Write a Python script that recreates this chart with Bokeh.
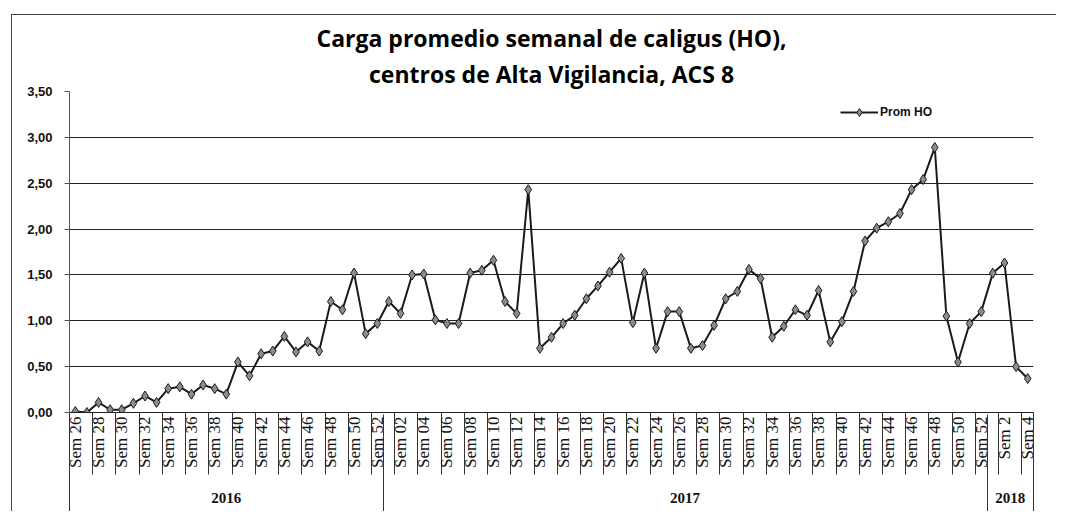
import math
from bokeh.plotting import figure
from bokeh.models import (Range1d, FixedTicker, LinearAxis, Title, Legend,
                          LegendItem, ColumnDataSource, Grid)
from bokeh.embed import file_html
from bokeh.resources import INLINE

# ---------------- data ----------------
weeks_2016 = ["Sem 26", "Sem 27", "Sem 28", "Sem 29", "Sem 30", "Sem 31", "Sem 32",
              "Sem 33", "Sem 34", "Sem 35", "Sem 36", "Sem 37", "Sem 38", "Sem 39",
              "Sem 40", "Sem 41", "Sem 42", "Sem 43", "Sem 44", "Sem 45", "Sem 46",
              "Sem 47", "Sem 48", "Sem 49", "Sem 50", "Sem 51", "Sem 52"]
weeks_2017 = ["Sem 01", "Sem 02", "Sem 03", "Sem 04", "Sem 05", "Sem 06", "Sem 07",
              "Sem 08", "Sem 09", "Sem 10", "Sem 11", "Sem 12", "Sem 13", "Sem 14",
              "Sem 15", "Sem 16", "Sem 17", "Sem 18", "Sem 19", "Sem 20", "Sem 21",
              "Sem 22", "Sem 23", "Sem 24", "Sem 25", "Sem 26", "Sem 27", "Sem 28",
              "Sem 29", "Sem 30", "Sem 31", "Sem 32", "Sem 33", "Sem 34", "Sem 35",
              "Sem 36", "Sem 37", "Sem 38", "Sem 39", "Sem 40", "Sem 41", "Sem 42",
              "Sem 43", "Sem 44", "Sem 45", "Sem 46", "Sem 47", "Sem 48", "Sem 49",
              "Sem 50", "Sem 51", "Sem 52"]
weeks_2018 = ["Sem 1", "Sem 2", "Sem 3", "Sem 4"]
years = ["2016", "2017", "2018"]

prom_2016 = [0.01, 0.00, 0.11, 0.03, 0.03, 0.10, 0.18, 0.11, 0.26, 0.28, 0.20, 0.30,
             0.26, 0.20, 0.55, 0.40, 0.64, 0.67, 0.83, 0.66, 0.77, 0.67, 1.21, 1.12,
             1.52, 0.86, 0.97]
prom_2017 = [1.21, 1.08, 1.50, 1.51, 1.01, 0.97, 0.97, 1.52, 1.55, 1.66, 1.21, 1.08,
             2.43, 0.70, 0.82, 0.97, 1.06, 1.24, 1.38, 1.53, 1.68, 0.98, 1.52, 0.70,
             1.10, 1.10, 0.70, 0.73, 0.95, 1.24, 1.32, 1.56, 1.46, 0.82, 0.94, 1.12,
             1.06, 1.33, 0.77, 0.99, 1.32, 1.87, 2.01, 2.08, 2.17, 2.43, 2.54, 2.89,
             1.05, 0.55, 0.97, 1.10]
prom_2018 = [1.52, 1.63, 0.50, 0.37]

y_ticks = [0.0, 0.5, 1.0, 1.5, 2.0, 2.5, 3.0, 3.5]
y_tick_labels = ["0,00", "0,50", "1,00", "1,50", "2,00", "2,50", "3,00", "3,50"]

title_lines = ["Carga promedio semanal de caligus (HO),",
               "centros de Alta Vigilancia, ACS 8"]
series_name = "Prom HO"

# ---------------- derived ----------------
week_groups = [weeks_2016, weeks_2017, weeks_2018]
labels = weeks_2016 + weeks_2017 + weeks_2018
values = prom_2016 + prom_2017 + prom_2018
n = len(labels)
xs = list(range(n))
src = ColumnDataSource(dict(x=xs, y=values, label=labels))

bounds = [-0.5]
for g in week_groups:
    bounds.append(bounds[-1] + len(g))
centers = [(bounds[i] + bounds[i + 1]) / 2 for i in range(len(week_groups))]

p = figure(width=1045, height=497, output_backend="svg", toolbar_location=None,
           x_range=Range1d(-0.5, n - 0.5), y_range=Range1d(0, 3.5),
           x_axis_type=None, y_axis_type=None, title=None,
           min_border_left=57, min_border_right=24, min_border_top=76,
           min_border_bottom=100)
p.outline_line_color = None
p.background_fill_color = "white"
p.border_fill_color = "white"
p.styles = {"border-left": "1px solid #444", "border-top": "1px solid #444",
            "margin-left": "11px", "margin-top": "14px"}

# titles (first added = closest to plot)
p.add_layout(Title(text=title_lines[1], align="center", text_font="Open Sans",
                   text_font_size="23px", text_font_style="bold",
                   text_color="black", standoff=4), "above")
p.add_layout(Title(text=title_lines[0], align="center", text_font="Open Sans",
                   text_font_size="23px", text_font_style="bold",
                   text_color="black", standoff=0), "above")

# y axis + grid
yticker = FixedTicker(ticks=y_ticks)
yaxis = LinearAxis(ticker=yticker,
                   major_label_overrides={t: s for t, s in zip(y_ticks, y_tick_labels)},
                   major_label_text_font="Liberation Sans",
                   major_label_text_font_style="bold",
                   major_label_text_font_size="13px",
                   major_label_text_color="#111",
                   axis_line_color="#555", major_tick_line_color="#555",
                   major_tick_out=5, major_tick_in=0, minor_tick_line_color=None,
                   major_label_standoff=12)
p.add_layout(yaxis, "left")
p.add_layout(Grid(dimension=1, ticker=yticker, grid_line_color="#222",
                  grid_line_width=1))

# x axis with week labels (every second week), separators as minor ticks
label_ticks = xs[::2]
sep_ticks = sorted(set([-0.5] + [i + 1.5 for i in label_ticks if i + 1.5 < n] + [n - 0.5]))
xaxis = LinearAxis(ticker=FixedTicker(ticks=label_ticks, minor_ticks=sep_ticks),
                   major_label_overrides={i: labels[i] for i in label_ticks},
                   major_label_orientation=math.pi / 2,
                   major_label_text_font="Liberation Serif",
                   major_label_text_font_size="17px",
                   major_label_text_color="#111",
                   major_tick_out=0, major_tick_in=0, major_tick_line_color=None,
                   minor_tick_out=62, minor_tick_in=0,
                   minor_tick_line_color="#333", minor_tick_line_width=1,
                   axis_line_color="#222", major_label_standoff=-58)
p.add_layout(xaxis, "below")

# x axis with year groups
year_axis = LinearAxis(ticker=FixedTicker(ticks=centers, minor_ticks=bounds),
                       major_label_overrides={c: y for c, y in zip(centers, years)},
                       major_label_text_font="Liberation Serif",
                       major_label_text_font_style="bold",
                       major_label_text_font_size="15px",
                       major_label_text_color="#111",
                       major_tick_out=0, major_tick_in=0, major_tick_line_color=None,
                       minor_tick_in=56, minor_tick_out=44,
                       minor_tick_line_color="#333", minor_tick_line_width=1,
                       axis_line_color=None, major_label_standoff=-22)
p.add_layout(year_axis, "below")

# series
line_r = p.line("x", "y", source=src, line_color="#1a1a1a", line_width=2)
pts_r = p.scatter("x", "y", source=src, marker="diamond", size=10,
                  fill_color="#8c8c8c", line_color="#1a1a1a", line_width=1)

legend = Legend(items=[LegendItem(label=series_name, renderers=[line_r, pts_r])],
                location=(771, 290), orientation="vertical",
                border_line_color=None, background_fill_alpha=0,
                padding=0, margin=0, glyph_width=38, glyph_height=20,
                label_standoff=2, label_text_font="Liberation Sans",
                label_text_font_size="12px", label_text_font_style="bold",
                label_text_color="#111")
p.add_layout(legend)

open("out.html", "w").write(file_html(p, INLINE))
